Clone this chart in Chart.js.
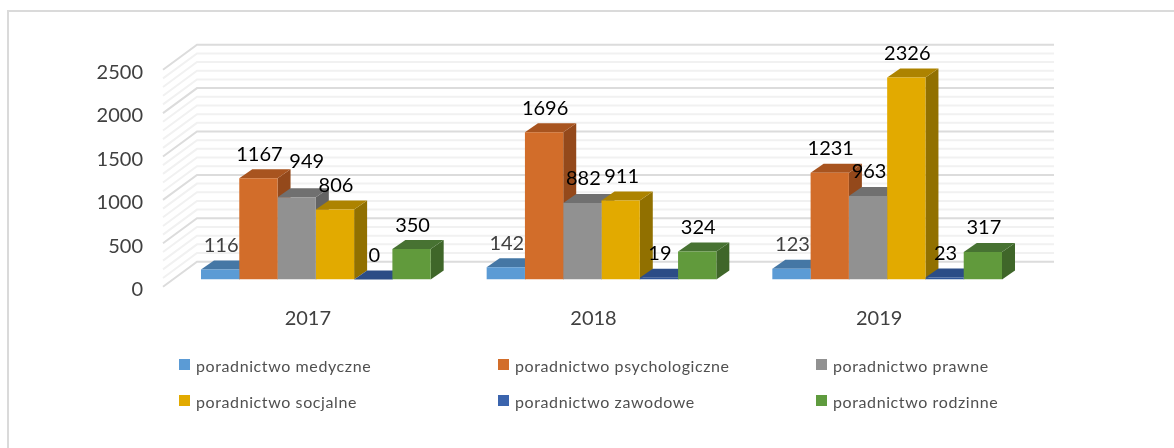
<!DOCTYPE html>
<html><head><meta charset="utf-8">
<style>html,body{margin:0;padding:0;background:#fff}#w{width:1174px;height:448px;position:relative}</style>
<script src="https://cdn.jsdelivr.net/npm/chart.js@4"></script></head>
<body><div id="w"><canvas id="c" width="1174" height="448"></canvas></div>
<script>
const categories = ['2017', '2018', '2019'];
const seriesNames = ['poradnictwo medyczne','poradnictwo psychologiczne','poradnictwo prawne','poradnictwo socjalne','poradnictwo zawodowe','poradnictwo rodzinne'];
const medyczne = [116, 142, 123];
const psychologiczne = [1167, 1696, 1231];
const prawne = [949, 882, 963];
const socjalne = [806, 911, 2326];
const zawodowe = [0, 19, 23];
const rodzinne = [350, 324, 317];
const seriesValues = [medyczne, psychologiczne, prawne, socjalne, zawodowe, rodzinne];
const frontColors = ['#5B9BD5','#D26D2A','#919191','#E2AA00','#2F5597','#619A3C'];
const topColors   = ['#4577A5','#A8541F','#707070','#AD8300','#2B4C86','#477232'];
const sideColors  = ['#3A6690','#94491B','#636363','#917000','#233F70','#3F6629'];
const legendColors= ['#5B9BD5','#D26D2A','#919191','#E2AA00','#3B64AD','#5F9B3E'];
const FONT = 'Lato, sans-serif';
const DX = 13, DY = 9;              // bar depth
const WX = 34, WY = 25;             // wall depth
const FRONT_X = -10, FRONT_Y = 7.2; // front edge of the floor relative to the bars' plane

const walls = {
  id: 'walls',
  beforeDatasetsDraw(chart) {
    const {ctx, scales: {x, y}, chartArea: a} = chart;
    ctx.save();
    ctx.strokeStyle = '#DADADA'; ctx.lineWidth = 2;
    ctx.beginPath();
    ctx.moveTo(8, 448); ctx.lineTo(8, 11); ctx.lineTo(1174, 11);
    ctx.stroke();
    ctx.lineWidth = 2;
    for (let v = 0; v <= y.max; v += 100) {
      const p = y.getPixelForValue(v);
      const xl = a.left + FRONT_X, yl = p + FRONT_Y;
      ctx.strokeStyle = v % 500 === 0 ? '#DCDCDC' : '#F1F1F1';
      ctx.beginPath();
      ctx.moveTo(xl, yl);
      ctx.lineTo(xl + WX, yl - WY);
      ctx.lineTo(a.right + 24, yl - WY);
      ctx.stroke();
    }
    // depth faces of the bars, left to right
    seriesValues.forEach((_, i) => {
      chart.getDatasetMeta(i).data.forEach(el => {
        const l = el.x - el.width / 2, r = el.x + el.width / 2, t = el.y, b = el.base;
        ctx.fillStyle = sideColors[i];
        ctx.beginPath();
        ctx.moveTo(r, t); ctx.lineTo(r + DX, t - DY); ctx.lineTo(r + DX, b - DY); ctx.lineTo(r, b);
        ctx.closePath(); ctx.fill();
        ctx.fillStyle = topColors[i];
        ctx.beginPath();
        ctx.moveTo(l, t); ctx.lineTo(l + DX, t - DY); ctx.lineTo(r + DX, t - DY); ctx.lineTo(r, t);
        ctx.closePath(); ctx.fill();
      });
    });
    ctx.restore();
  },
  afterDatasetsDraw(chart) {
    const {ctx} = chart;
    ctx.save();
    ctx.font = '20px ' + FONT;
    ctx.textAlign = 'center'; ctx.textBaseline = 'middle';
    seriesValues.forEach((vals, i) => {
      chart.getDatasetMeta(i).data.forEach((el, j) => {
        const moved = i === 2 && j === 0;
        ctx.fillStyle = i === 0 ? '#404040' : '#000';
        ctx.fillText(String(vals[j]), el.x + (moved ? 10 : 1), el.y - (moved ? 36 : 24));
      });
    });
    // legend
    ctx.font = '16px ' + FONT;
    ctx.letterSpacing = '0.6px';
    ctx.textAlign = 'left';
    const cols = [179, 498, 816], rows = [359, 395];
    seriesNames.forEach((n, i) => {
      const lx = cols[i % 3], ly = rows[Math.floor(i / 3)];
      ctx.fillStyle = legendColors[i];
      ctx.fillRect(lx, ly, 11, 11);
      ctx.fillStyle = '#505050';
      ctx.fillText(n, lx + 17, ly + 8);
    });
    ctx.restore();
  }
};

new Chart(document.getElementById('c'), {
  type: 'bar',
  data: {
    labels: categories,
    datasets: seriesNames.map((n, i) => ({
      label: n, data: seriesValues[i], backgroundColor: frontColors[i],
      borderWidth: 0, categoryPercentage: 0.804, barPercentage: 1
    }))
  },
  options: {
    responsive: false, animation: false,
    layout: {padding: {left: 0, right: 144, top: 62.5, bottom: 0}},
    plugins: {legend: {display: false}, tooltip: {enabled: false}},
    scales: {
      x: {
        grid: {display: false}, border: {display: false},
        afterFit(s) { s.height = 168.5; },
        ticks: {color: '#404040', font: {family: FONT, size: 20}, padding: 19, labelOffset: -8, maxRotation: 0}
      },
      y: {
        min: 0, max: 2500,
        grid: {display: false, drawTicks: false}, border: {display: false},
        afterFit(s) { s.width = 173; },
        ticks: {stepSize: 500, color: '#404040', font: {family: FONT, size: 20}, padding: 30, labelOffset: 10,
          callback: v => String(v)}
      }
    }
  },
  plugins: [walls]
});
</script></body></html>
